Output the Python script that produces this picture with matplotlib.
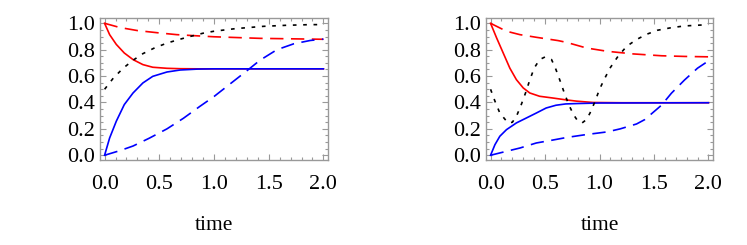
import matplotlib
matplotlib.use("Agg")
import matplotlib.pyplot as plt
from matplotlib.ticker import MultipleLocator

plt.rcParams['font.family'] = ['Liberation Serif', 'DejaVu Serif']

# ---- Left panel data ----
L_red_solid_t = [0, 0.046, 0.107, 0.18, 0.26, 0.35, 0.44, 0.57, 0.69, 0.85, 1.0, 2.0]
L_red_solid_y = [1.0, 0.914, 0.84, 0.775, 0.725, 0.687, 0.667, 0.659, 0.656, 0.655, 0.655, 0.655]
L_blue_solid_t = [0, 0.046, 0.107, 0.18, 0.26, 0.35, 0.44, 0.57, 0.69, 0.85, 1.0, 2.0]
L_blue_solid_y = [0.0, 0.131, 0.258, 0.384, 0.472, 0.548, 0.598, 0.631, 0.646, 0.653, 0.655, 0.655]
L_red_dash_t = [0, 0.14, 0.3, 0.5, 0.66, 0.87, 1.0, 1.42, 2.0]
L_red_dash_y = [1.0, 0.968, 0.945, 0.927, 0.914, 0.904, 0.898, 0.886, 0.879]
L_blue_dash_t = [0, 0.14, 0.26, 0.41, 0.57, 0.72, 0.87, 1.0, 1.1, 1.2, 1.3, 1.42, 1.575, 1.73, 1.88, 2.0]
L_blue_dash_y = [0.0, 0.035, 0.07, 0.13, 0.2, 0.28, 0.37, 0.445, 0.51, 0.575, 0.64, 0.72, 0.8, 0.845, 0.87, 0.88]
L_black_dot_t = [0, 0.08, 0.17, 0.26, 0.35, 0.46, 0.57, 0.67, 0.78, 0.9, 1.0, 1.2, 1.45, 1.66, 1.88, 2.0]
L_black_dot_y = [0.5, 0.585, 0.66, 0.72, 0.77, 0.815, 0.85, 0.875, 0.9, 0.925, 0.94, 0.96, 0.977, 0.985, 0.99, 0.99]

# ---- Right panel data ----
R_red_solid_t = [0, 0.055, 0.116, 0.177, 0.237, 0.3, 0.36, 0.45, 0.57, 0.69, 0.79, 0.94, 1.2, 2.0]
R_red_solid_y = [1.0, 0.89, 0.775, 0.66, 0.573, 0.51, 0.472, 0.447, 0.434, 0.42, 0.41, 0.4, 0.398, 0.398]
R_blue_solid_t = [0, 0.04, 0.085, 0.146, 0.237, 0.33, 0.42, 0.51, 0.6, 0.69, 0.8, 1.0, 2.0]
R_blue_solid_y = [0.0, 0.08, 0.144, 0.194, 0.245, 0.283, 0.32, 0.358, 0.379, 0.389, 0.392, 0.396, 0.398]
R_red_dash_t = [0, 0.146, 0.27, 0.42, 0.62, 0.7, 0.88, 1.07, 1.31, 1.57, 1.78, 2.0]
R_red_dash_y = [1.0, 0.94, 0.914, 0.894, 0.869, 0.855, 0.813, 0.788, 0.768, 0.754, 0.749, 0.746]
R_blue_dash_t = [0, 0.146, 0.27, 0.42, 0.57, 0.7, 0.88, 1.07, 1.19, 1.34, 1.415, 1.57, 1.66, 1.78, 1.9, 2.0]
R_blue_dash_y = [0.0, 0.03, 0.055, 0.093, 0.115, 0.135, 0.157, 0.177, 0.2, 0.237, 0.27, 0.38, 0.47, 0.57, 0.66, 0.715]
R_black_dot_t = [0, 0.04, 0.085, 0.16, 0.2, 0.24, 0.28, 0.32, 0.36, 0.4, 0.45, 0.5, 0.56, 0.6, 0.64, 0.68,
                 0.72, 0.76, 0.8, 0.84, 0.88, 0.913, 0.96, 1.0, 1.05, 1.1, 1.17, 1.25, 1.34, 1.43, 1.53,
                 1.66, 1.78, 2.0]
R_black_dot_y = [0.5, 0.41, 0.32, 0.245, 0.25, 0.3, 0.38, 0.47, 0.57, 0.66, 0.725, 0.745, 0.725, 0.65, 0.56,
                 0.465, 0.38, 0.31, 0.26, 0.245, 0.27, 0.32, 0.41, 0.5, 0.586, 0.665, 0.75, 0.826, 0.877,
                 0.916, 0.947, 0.967, 0.98, 0.99]

x_ticks = [0.0, 0.5, 1.0, 1.5, 2.0]
y_ticks = [0.0, 0.2, 0.4, 0.6, 0.8, 1.0]
xlabel = "time"

fig = plt.figure(figsize=(7.47, 2.45), dpi=100)
W, H = 747, 245
ax_h = 141.7
ax1 = fig.add_axes([100 / W, (H - 160) / H, 228 / W, ax_h / H])
ax2 = fig.add_axes([486 / W, (H - 160) / H, 227 / W, ax_h / H])

gray = '#999999'
lw = 1.2
dash = (0, (8, 4.5))
dot = (0, (2.2, 4))

panels = [
    (ax1, [(L_red_solid_t, L_red_solid_y, 'red', '-'),
           (L_blue_solid_t, L_blue_solid_y, 'blue', '-'),
           (L_red_dash_t, L_red_dash_y, 'red', dash),
           (L_blue_dash_t, L_blue_dash_y, 'blue', dash),
           (L_black_dot_t, L_black_dot_y, 'black', dot)]),
    (ax2, [(R_red_solid_t, R_red_solid_y, 'red', '-'),
           (R_blue_solid_t, R_blue_solid_y, 'blue', '-'),
           (R_red_dash_t, R_red_dash_y, 'red', dash),
           (R_blue_dash_t, R_blue_dash_y, 'blue', dash),
           (R_black_dot_t, R_black_dot_y, 'black', dot)]),
]

for ax, series in panels:
    for t, y, c, ls in series:
        ax.plot(t, y, color=c, linestyle=ls, linewidth=lw)
    ax.set_xlim(-0.042, 2.042)
    ax.set_ylim(-0.036, 1.038)
    ax.set_xticks(x_ticks)
    ax.set_yticks(y_ticks)
    ax.set_xticklabels([f"{v:.1f}" for v in x_ticks])
    ax.set_yticklabels([f"{v:.1f}" for v in y_ticks])
    ax.xaxis.set_minor_locator(MultipleLocator(0.1))
    ax.yaxis.set_minor_locator(MultipleLocator(0.05))
    ax.tick_params(which='both', direction='in', top=True, right=True, color=gray,
                   labelsize=16, width=0.8)
    ax.tick_params(which='major', length=4.5)
    ax.tick_params(which='minor', length=2.5)
    ax.tick_params(axis='x', pad=10.5)
    ax.tick_params(axis='y', pad=3.5)
    for s in ax.spines.values():
        s.set_color(gray)
        s.set_linewidth(1.0)
    ax.set_xlabel(xlabel, fontsize=15.5, va='baseline')
    ax.xaxis.set_label_coords(0.5, (160 - 229.5) / ax_h)

fig.savefig("out.png", dpi=100)
